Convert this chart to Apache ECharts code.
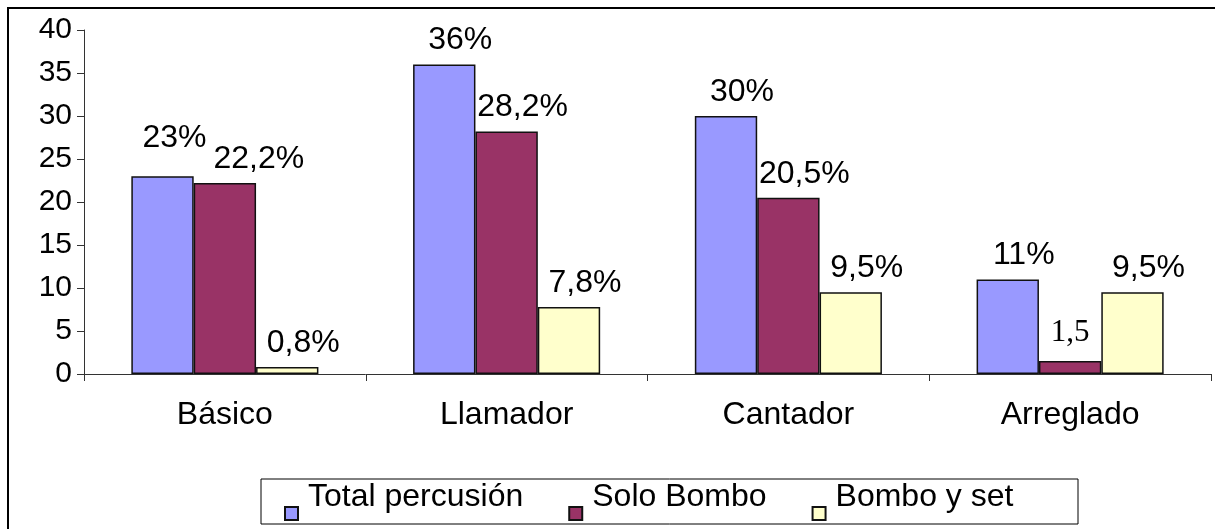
<!DOCTYPE html>
<html>
<head>
<meta charset="utf-8">
<script src="https://cdn.jsdelivr.net/npm/echarts@6/dist/echarts.min.js"></script>
<style>
  html, body { margin: 0; padding: 0; background: #fff; overflow: hidden; }
  #chart { width: 1215px; height: 529px; }
</style>
</head>
<body>
<div id="chart"></div>
<script>
// datos del gráfico
var categories = ['Básico', 'Llamador', 'Cantador', 'Arreglado'];
var seriesNames = ['Total percusión', 'Solo Bombo', 'Bombo y set'];
var totalPercusion = [23, 36, 30, 11];
var soloBombo = [22.2, 28.2, 20.5, 1.5];
var bomboYSet = [0.8, 7.8, 9.5, 9.5];
var totalLabels = ['23%', '36%', '30%', '11%'];
var soloLabels = ['22,2%', '28,2%', '20,5%', '1,5'];
var bomboLabels = ['0,8%', '7,8%', '9,5%', '9,5%'];
var yMin = 0, yMax = 40, yStep = 5;

var FONT = '"Liberation Sans", Arial, sans-serif';

// ajustes de etiquetas (serie-índice)
var labelTweaks = {
  '0-0': { offset: [12, -14] },
  '1-0': { offset: [34, 0] },
  '1-3': { offset: [0, -5], fontFamily: '"Liberation Serif", "Times New Roman", serif', fontSize: 31 }
};

function barSeries(si, name, values, labels, color) {
  return {
    name: name,
    type: 'bar',
    barGap: '0%',
    barCategoryGap: '33.6%',
    itemStyle: { color: color, borderColor: '#111', borderWidth: 1.5 },
    label: {
      show: true,
      position: 'top',
      distance: 8,
      offset: [16, 0],
      color: '#000',
      fontSize: 32,
      fontFamily: FONT
    },
    data: values.map(function (v, i) {
      var lab = Object.assign({ formatter: labels[i] }, labelTweaks[si + '-' + i] || {});
      return { value: v, label: lab };
    })
  };
}

var chart = echarts.init(document.getElementById('chart'));
chart.setOption({
  animation: false,
  backgroundColor: '#fff',
  grid: { left: 84, right: 4, top: 30, bottom: 155, containLabel: false },
  graphic: [
    {
      // marco exterior: lado izquierdo
      type: 'line', z: -10,
      shape: { x1: 8, y1: 7, x2: 8, y2: 540 },
      style: { stroke: '#000', lineWidth: 2 }
    },
    {
      // marco exterior: lado superior
      type: 'line', z: -10,
      shape: { x1: 7, y1: 8, x2: 1240, y2: 8 },
      style: { stroke: '#000', lineWidth: 2 }
    },
    {
      // caja de la leyenda
      type: 'rect', z: -10,
      shape: { x: 261, y: 479, width: 817, height: 45 },
      style: { fill: '#fff', stroke: '#000', lineWidth: 1 }
    }
  ],
  legend: {
    left: 284,
    top: 473,
    padding: 0,
    itemGap: 45,
    itemWidth: 18,
    itemHeight: 46,
    icon: 'path://M0,0M0,33L13,33L13,46L0,46ZM18,0',
    selectedMode: false,
    data: seriesNames,
    textStyle: { fontSize: 32, color: '#000', fontFamily: FONT }
  },
  xAxis: {
    type: 'category',
    data: categories,
    boundaryGap: true,
    axisLine: { lineStyle: { color: '#333', width: 1 } },
    axisTick: { show: true, length: 7, alignWithLabel: false, lineStyle: { color: '#333' } },
    axisLabel: { fontSize: 32, margin: 25, color: '#000', fontFamily: FONT }
  },
  yAxis: {
    type: 'value',
    min: yMin,
    max: yMax,
    interval: yStep,
    axisLine: { show: true, lineStyle: { color: '#333', width: 1 } },
    axisTick: { show: true, length: 7, lineStyle: { color: '#333' } },
    splitLine: { show: false },
    axisLabel: { fontSize: 30, margin: 12, color: '#000', fontFamily: FONT }
  },
  series: [
    barSeries(0, seriesNames[0], totalPercusion, totalLabels, '#9999FF'),
    barSeries(1, seriesNames[1], soloBombo, soloLabels, '#993366'),
    barSeries(2, seriesNames[2], bomboYSet, bomboLabels, '#FFFFCC')
  ]
});
</script>
</body>
</html>
